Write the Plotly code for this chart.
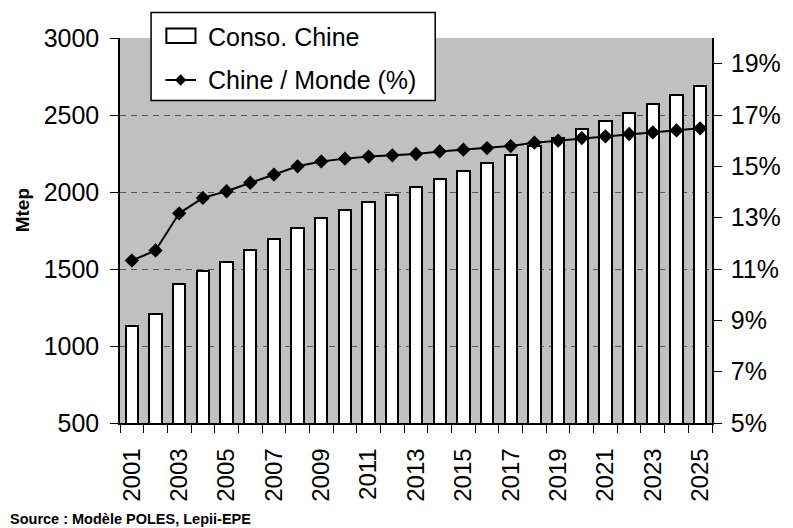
import plotly.graph_objects as go

# Chinese primary energy consumption (Mtep) and China's share of world consumption (%)
years = list(range(2001, 2026))
conso_chine = [1132, 1210, 1400, 1488, 1548, 1623, 1697, 1769, 1834, 1883,
               1935, 1978, 2032, 2087, 2136, 2188, 2240, 2297, 2353, 2407,
               2461, 2513, 2571, 2630, 2691]
part_monde = [11.33, 11.72, 13.17, 13.77, 14.03, 14.36, 14.68, 15.00, 15.19, 15.30,
              15.38, 15.43, 15.48, 15.58, 15.65, 15.71, 15.79, 15.92, 16.00, 16.10,
              16.17, 16.26, 16.32, 16.40, 16.48]

left_ticks = [500, 1000, 1500, 2000, 2500, 3000]
right_ticks = [5, 7, 9, 11, 13, 15, 17, 19]
year_labels = [y for y in years if y % 2 == 1]
series_names = ["Conso. Chine", "Chine / Monde (%)"]

FONT = "Liberation Sans, Arial, sans-serif"
W, H = 793, 528
M_L, M_R, M_T, M_B = 120, 73, 38, 105
PW, PH = W - M_L - M_R, H - M_T - M_B


def px(x):
    """pixel column -> paper x"""
    return (x - M_L) / PW


def py(y):
    """pixel row -> paper y"""
    return (H - M_B - y) / PH


fig = go.Figure()
fig.add_trace(go.Bar(
    x=years, y=conso_chine, name=series_names[0],
    width=0.52, base=0, showlegend=False,
    marker=dict(color="white", line=dict(color="black", width=2)),
    yaxis="y",
))
fig.add_trace(go.Scatter(
    x=years, y=part_monde, name=series_names[1],
    mode="lines+markers", showlegend=False,
    line=dict(color="black", width=2),
    marker=dict(symbol="diamond", size=11, color="black"),
    yaxis="y2",
))

fig.update_layout(
    width=W, height=H,
    margin=dict(l=M_L, r=M_R, t=M_T, b=M_B),
    paper_bgcolor="white",
    plot_bgcolor="#c0c0c0",
    font=dict(family=FONT, size=25, color="black"),
    bargap=0,
    showlegend=False,
    xaxis=dict(
        range=[2000.5, 2025.5],
        tickmode="array", tickvals=year_labels,
        ticktext=[str(y) for y in year_labels],
        tickangle=-90, ticks="", ticklen=0,
        ticklabelstandoff=14,
        showgrid=False, zeroline=False,
        showline=True, linecolor="black", linewidth=1.5,
        minor=dict(tickmode="array",
                   tickvals=[y - 0.5 for y in years] + [years[-1] + 0.5],
                   ticks="outside", ticklen=8, tickcolor="black", tickwidth=1,
                   showgrid=False),
        tickfont=dict(size=24),
    ),
    yaxis=dict(
        range=[500, 3000],
        tickmode="array", tickvals=left_ticks,
        ticks="outside", ticklen=8, tickcolor="black", tickwidth=1,
        ticklabelstandoff=6,
        showgrid=True, gridcolor="#555555", gridwidth=1, griddash="6px,5px",
        zeroline=False,
        showline=True, linecolor="black", linewidth=1.5,
        tickfont=dict(size=25),
    ),
    yaxis2=dict(
        range=[5, 20], overlaying="y", side="right",
        tickmode="array", tickvals=right_ticks,
        ticktext=[f"{v}%" for v in right_ticks],
        ticks="outside", ticklen=8, tickcolor="black", tickwidth=1,
        ticklabelstandoff=4,
        showgrid=False, zeroline=False,
        showline=True, linecolor="black", linewidth=1.5,
        tickfont=dict(size=25),
    ),
)

# --- legend box ---
fig.add_shape(type="rect", xref="paper", yref="paper",
              x0=px(151.5), x1=px(439.5), y0=py(100.5), y1=py(12.5),
              line=dict(color="black", width=1.5), fillcolor="white", layer="above")
# bar swatch
fig.add_shape(type="rect", xref="paper", yref="paper",
              x0=px(167), x1=px(196.5), y0=py(43), y1=py(28.5),
              line=dict(color="black", width=2), fillcolor="white", layer="above")
# line + diamond swatch
fig.add_shape(type="line", xref="paper", yref="paper",
              x0=px(166), x1=px(197), y0=py(80), y1=py(80),
              line=dict(color="black", width=2), layer="above")
cx, cy, r = 181.5, 80, 5.5
fig.add_shape(type="path", xref="paper", yref="paper",
              path=(f"M {px(cx - r)} {py(cy)} L {px(cx)} {py(cy - r)} "
                    f"L {px(cx + r)} {py(cy)} L {px(cx)} {py(cy + r)} Z"),
              line=dict(color="black", width=0.5), fillcolor="black", layer="above")
for name, yc in zip(series_names, [36.5, 80]):
    fig.add_annotation(text=name, xref="paper", yref="paper",
                       x=px(207), y=py(yc), xanchor="left", yanchor="middle",
                       showarrow=False, font=dict(size=25, family=FONT))

fig.add_annotation(
    text="<b>Mtep</b>", xref="paper", yref="paper",
    x=px(21), y=py(210), textangle=-90,
    showarrow=False, font=dict(size=19, family=FONT),
    xanchor="center", yanchor="middle",
)
fig.add_annotation(
    text="<b>Source : Modèle POLES, Lepii-EPE</b>", xref="paper", yref="paper",
    x=px(6), y=py(518.5), xanchor="left", yanchor="middle",
    showarrow=False, font=dict(size=14.5, family=FONT),
)

fig.write_html("out.html")
